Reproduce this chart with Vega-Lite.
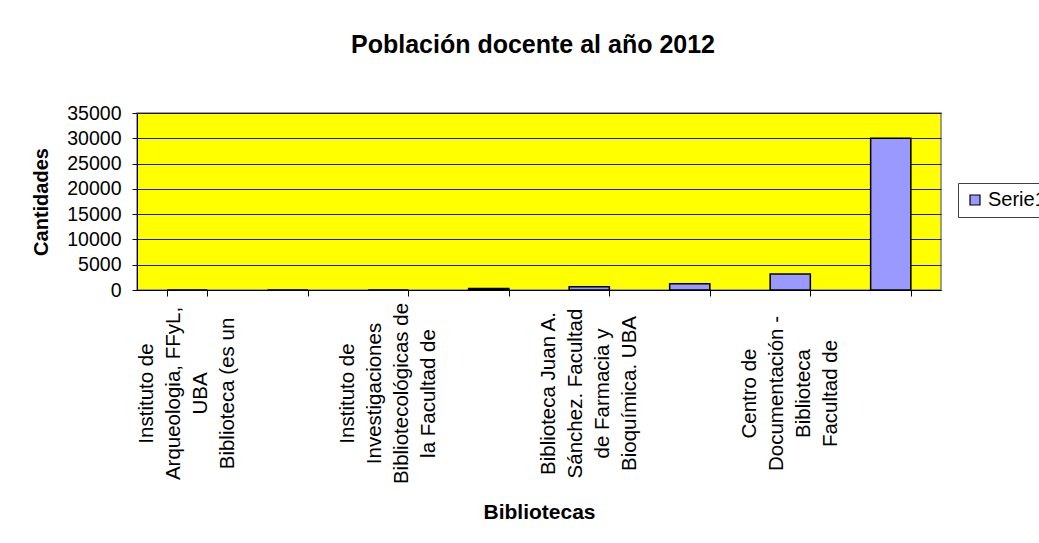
{
  "$schema": "https://vega.github.io/schema/vega-lite/v6.json",
  "width": 804,
  "height": 177,
  "autosize": {"type": "none"},
  "padding": {"left": 137, "top": 113, "right": 98, "bottom": 253},
  "background": "white",
  "title": {
    "text": "Población docente al año 2012",
    "font": "Liberation Sans",
    "fontSize": 25,
    "fontWeight": "bold",
    "color": "black",
    "anchor": "middle",
    "frame": "group",
    "dx": -6,
    "baseline": "alphabetic",
    "offset": 25
  },
  "data": {
    "values": [
      {"biblioteca": "Instituto de\nArqueologia, FFyL,\nUBA\nBiblioteca  (es un", "cantidad": 0, "serie": "Serie1"},
      {"biblioteca": "Biblioteca 2", "cantidad": 0, "serie": "Serie1"},
      {"biblioteca": "Instituto de\nInvestigaciones\nBibliotecológicas de\nla Facultad de", "cantidad": 0, "serie": "Serie1"},
      {"biblioteca": "Biblioteca 4", "cantidad": 300, "serie": "Serie1"},
      {"biblioteca": "Biblioteca Juan A.\nSánchez. Facultad\nde Farmacia y\nBioquímica. UBA", "cantidad": 650, "serie": "Serie1"},
      {"biblioteca": "Biblioteca 6", "cantidad": 1250, "serie": "Serie1"},
      {"biblioteca": "Centro de\nDocumentación -\nBiblioteca\nFacultad de", "cantidad": 3150, "serie": "Serie1"},
      {"biblioteca": "Biblioteca 8", "cantidad": 30000, "serie": "Serie1"}
    ]
  },
  "mark": {"type": "bar", "stroke": "black", "strokeWidth": 1.5},
  "encoding": {
    "x": {
      "field": "biblioteca",
      "type": "nominal",
      "sort": null,
      "scale": {"paddingInner": 0.6, "paddingOuter": 0.3},
      "axis": {
        "title": "Bibliotecas",
        "titleFontSize": 21,
        "titleFontWeight": "bold",
        "titleColor": "black",
        "titlePadding": 18,
        "labelAngle": 270,
        "labelAlign": "center",
        "labelBaseline": "middle",
        "labelFontSize": 20.5,
        "labelLineHeight": 27,
        "labelColor": "black",
        "labelPadding": 97,
        "labelOffset": -41,
        "labelLimit": 400,
        "labelOverlap": false,
        "labelExpr": "indexof(datum.label, '\\n') >= 0 ? split(datum.label, '\\n') : ''",
        "tickBand": "extent",
        "tickSize": 6,
        "tickColor": "black",
        "domainColor": "black",
        "grid": false
      }
    },
    "y": {
      "field": "cantidad",
      "type": "quantitative",
      "scale": {"domain": [0, 35000], "nice": false},
      "axis": {
        "title": "Cantidades",
        "titleFontSize": 20,
        "titleFontWeight": "bold",
        "titleColor": "black",
        "titlePadding": 15,
        "values": [0, 5000, 10000, 15000, 20000, 25000, 30000, 35000],
        "format": "d",
        "labelFontSize": 19.5,
        "labelColor": "black",
        "labelPadding": 11,
        "tickSize": 5,
        "tickColor": "black",
        "domainColor": "black",
        "grid": true,
        "gridColor": "#1a1a1a",
        "gridWidth": 1
      }
    },
    "color": {
      "field": "serie",
      "type": "nominal",
      "scale": {"range": ["#9999FF"]},
      "legend": {
        "title": null,
        "orient": "none",
        "legendX": 821,
        "legendY": 70,
        "symbolType": "square",
        "symbolSize": 100,
        "symbolStrokeColor": "black",
        "symbolStrokeWidth": 1.2,
        "symbolOpacity": 1,
        "labelFontSize": 20,
        "labelColor": "black",
        "labelOffset": 3,
        "strokeColor": "#404040",
        "fillColor": "white",
        "padding": 7
      }
    }
  },
  "config": {
    "font": "Liberation Sans",
    "view": {"fill": "#FFFF00", "stroke": "#808080", "strokeWidth": 1.5}
  }
}
